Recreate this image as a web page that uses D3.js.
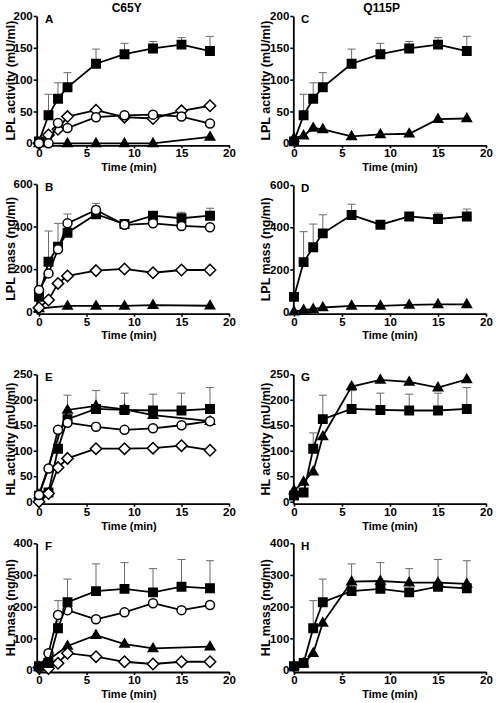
<!DOCTYPE html>
<html><head><meta charset="utf-8">
<script src="https://cdn.jsdelivr.net/npm/d3@7"></script>
<style>
body{margin:0;background:#fff}
svg{display:block}
text{font-family:"Liberation Sans",Arial,Helvetica,sans-serif;font-weight:bold;fill:#000}
</style>
</head><body>
<svg id="chart" width="496" height="703"></svg>
<script>
// ---------- data ----------
const times = [0, 1, 2, 3, 6, 9, 12, 15, 18];
const timesTriC65Y = [0, 3, 6, 9, 12, 18];
const xTicks = [0, 5, 10, 15, 20];
const headers = ["C65Y", "Q115P"];

// LPL activity (mU/ml)
const lplActWT = [3, 44, 70, 88, 125, 140, 149, 155, 145];
const lplActWTErr = [null, 77, 95, 111, 148, 157, 160, 166, 168];
const lplActC65YCircle = [0, 0, 32, 24, 41, 44, 45, 42, 31];
const lplActC65YDiamond = [0, 13, 22, 42, 52, 41, 39, 51, 59];
const lplActC65YTri = [0, 0, 0, 0, 0, 10];
const lplActQ115PTri = [8, 12, 24, 22, 11, 14, 15, 38, 39];
const lplActTicks = [0, 50, 100, 150, 200];

// LPL mass (ng/ml)
const lplMassWT = [70, 235, 305, 371, 458, 412, 451, 439, 451];
const lplMassWTErr = [null, 379, 415, 459, 509, null, null, 467, 486];
const lplMassC65YCircle = [102, 180, 293, 415, 478, 408, 415, 403, 397];
const lplMassC65YDiamond = [19, 55, 133, 168, 193, 201, 183, 196, 196];
const lplMassC65YTri = [15, 27, 27, 27, 31, 28];
const lplMassQ115PTri = [0, 8, 12, 20, 28, 28, 32, 35, 35];
const lplMassTicks = [0, 200, 400, 600];

// HL activity (mU/ml)
const hlActWT = [12, 18, 104, 162, 182, 180, 179, 179, 182];
const hlActWTErr = [null, null, 135, 209, 218, 213, 211, 213, 224];
const hlActC65YCircle = [13, 65, 141, 155, 147, 141, 144, 150, 158];
const hlActC65YDiamond = [0, 16, 67, 85, 104, 104, 105, 110, 101];
const hlActC65YTri = [14, 180, 188, 181, 170, 158];
const hlActQ115PTri = [22, 39, 59, 128, 226, 239, 235, 224, 240];
const hlActTicks = [0, 50, 100, 150, 200, 250];

// HL mass (ng/ml)
const hlMassWT = [12, 22, 132, 214, 249, 256, 245, 263, 258];
const hlMassWTErr = [null, null, 219, 287, 335, 339, 320, 349, 345];
const hlMassC65YCircle = [8, 53, 174, 189, 160, 182, 211, 189, 205];
const hlMassC65YDiamond = [8, 5, 21, 53, 42, 26, 19, 26, 26];
const hlMassC65YTri = [10, 76, 110, 82, 68, 74];
const hlMassQ115PTri = [14, 21, 53, 149, 279, 281, 276, 276, 272];
const hlMassTicks = [0, 100, 200, 300, 400];

// ---------- layout ----------
const L = {axisX: 36.7, x0: 39, x20: 229, titleX: 11, timeX: 129, letterX: 45};
const R = {axisX: 293.3, x0: 294, x20: 486, titleX: 266, timeX: 390, letterX: 301};

const panels = [
  {col: L, letter: "A", top: 16, zero: 143.3, max: 200, ticks: lplActTicks, title: "LPL activity (mU/ml)", timeY: 171,
   series: [
     {type: "square", t: times, v: lplActWT, err: lplActWTErr},
     {type: "triangle", t: timesTriC65Y, v: lplActC65YTri},
     {type: "diamond", t: times, v: lplActC65YDiamond},
     {type: "circle", t: times, v: lplActC65YCircle}]},
  {col: R, letter: "C", top: 16, zero: 143.3, max: 200, ticks: lplActTicks, title: "LPL activity (mU/ml)", timeY: 171,
   series: [
     {type: "square", t: times, v: lplActWT, err: lplActWTErr},
     {type: "triangle", t: times, v: lplActQ115PTri}]},
  {col: L, letter: "B", top: 184, zero: 311.7, max: 600, ticks: lplMassTicks, title: "LPL mass (ng/ml)", timeY: 338.5,
   series: [
     {type: "square", t: times, v: lplMassWT, err: lplMassWTErr},
     {type: "triangle", t: timesTriC65Y, v: lplMassC65YTri},
     {type: "diamond", t: times, v: lplMassC65YDiamond},
     {type: "circle", t: times, v: lplMassC65YCircle}]},
  {col: R, letter: "D", top: 185, zero: 311.7, max: 600, ticks: lplMassTicks, title: "LPL mass (ng/ml)", timeY: 338.5,
   series: [
     {type: "square", t: times, v: lplMassWT, err: lplMassWTErr},
     {type: "triangle", t: times, v: lplMassQ115PTri}]},
  {col: L, letter: "E", top: 374.3, zero: 501.7, max: 250, ticks: hlActTicks, title: "HL activity (mU/ml)", timeY: 529.5,
   series: [
     {type: "triangle", t: timesTriC65Y, v: hlActC65YTri},
     {type: "square", t: times, v: hlActWT, err: hlActWTErr},
     {type: "diamond", t: times, v: hlActC65YDiamond},
     {type: "circle", t: times, v: hlActC65YCircle}]},
  {col: R, letter: "G", top: 374.3, zero: 501.7, max: 250, ticks: hlActTicks, title: "HL activity (mU/ml)", timeY: 529.5,
   series: [
     {type: "square", t: times, v: hlActWT, err: hlActWTErr},
     {type: "triangle", t: times, v: hlActQ115PTri}]},
  {col: L, letter: "F", top: 543.3, zero: 670, max: 400, ticks: hlMassTicks, title: "HL mass (ng/ml)", timeY: 697.5,
   series: [
     {type: "triangle", t: timesTriC65Y, v: hlMassC65YTri},
     {type: "diamond", t: times, v: hlMassC65YDiamond},
     {type: "circle", t: times, v: hlMassC65YCircle},
     {type: "square", t: times, v: hlMassWT, err: hlMassWTErr}]},
  {col: R, letter: "H", top: 543.3, zero: 670, max: 400, ticks: hlMassTicks, title: "HL mass (ng/ml)", timeY: 697.5,
   series: [
     {type: "square", t: times, v: hlMassWT, err: hlMassWTErr},
     {type: "triangle", t: times, v: hlMassQ115PTri}]}
];

const svg = d3.select("#chart");

function symbolPath(type) {
  const p = d3.path();
  if (type === "square") { const s = 4.2; p.rect(-s, -s, 2 * s, 2 * s); }
  else if (type === "circle") { p.arc(0, 0, 4.5, 0, 2 * Math.PI); }
  else if (type === "diamond") { const r = 5.7; p.moveTo(0, -r); p.lineTo(r, 0); p.lineTo(0, r); p.lineTo(-r, 0); p.closePath(); }
  else { const s = 9.4, h = s * Math.sqrt(3) / 2; p.moveTo(0, -h * 0.62); p.lineTo(s / 2, h * 0.38); p.lineTo(-s / 2, h * 0.38); p.closePath(); }
  return p.toString();
}

panels.forEach(pn => {
  const c = pn.col;
  const pxPerMin = (c.x20 - c.x0) / 20;
  const xMin = -(c.x0 - c.axisX) / pxPerMin;
  const x = d3.scaleLinear().domain([xMin, 20]).range([c.axisX, c.x20]);
  const pxPerUnit = (pn.zero - pn.top) / pn.max;
  const yMin = -2 / pxPerUnit;
  const y = d3.scaleLinear().domain([yMin, pn.max]).range([pn.zero + 2, pn.top]);
  const g = svg.append("g");

  // axes
  const xa = g.append("g").attr("transform", `translate(0,${pn.zero + 2})`)
    .call(d3.axisBottom(x).tickValues(xTicks).tickSizeInner(3).tickSizeOuter(0).tickPadding(1).tickFormat(d3.format("d")));
  const ya = g.append("g").attr("transform", `translate(${c.axisX},0)`)
    .call(d3.axisLeft(y).tickValues(pn.ticks).tickSizeInner(3).tickSizeOuter(0).tickPadding(1).tickFormat(d3.format("d")));
  [xa, ya].forEach(a => {
    a.select(".domain").attr("stroke", "#000").attr("stroke-width", 1.8);
    a.selectAll(".tick line").attr("stroke", "#000").attr("stroke-width", 1.6);
    a.selectAll(".tick text").style("font-size", "11.5px").style("font-weight", "bold").attr("fill", "#000")
      .style("font-family", '"Liberation Sans",Arial,sans-serif');
  });

  // titles
  g.append("text").attr("x", c.timeX).attr("y", pn.timeY).attr("text-anchor", "middle")
    .style("font-size", "11px").text("Time (min)");
  g.append("text").attr("transform", `translate(${c.titleX + 4},${(pn.top + pn.zero) / 2 + 1}) rotate(-90)`)
    .attr("text-anchor", "middle").style("font-size", "12.5px").text(pn.title);
  g.append("text").attr("x", c.letterX).attr("y", pn.top + 7).style("font-size", "11.5px").text(pn.letter);

  // error bars (upper only)
  pn.series.forEach(s => {
    if (!s.err) return;
    s.t.forEach((t, i) => {
      const e = s.err[i];
      if (e == null) return;
      g.append("line").attr("x1", x(t)).attr("x2", x(t)).attr("y1", y(s.v[i])).attr("y2", y(e))
        .attr("stroke", "#6a6a6a").attr("stroke-width", 1);
      g.append("line").attr("x1", x(t) - 4).attr("x2", x(t) + 4).attr("y1", y(e)).attr("y2", y(e))
        .attr("stroke", "#6a6a6a").attr("stroke-width", 1);
    });
  });

  // series
  pn.series.forEach(s => {
    const pts = s.t.map((t, i) => [t, s.v[i]]);
    g.append("path").datum(pts)
      .attr("d", d3.line().x(d => x(d[0])).y(d => y(d[1])))
      .attr("fill", "none").attr("stroke", "#000").attr("stroke-width", 1.8);
    const filled = s.type === "square" || s.type === "triangle";
    g.selectAll(null).data(pts).enter().append("path")
      .attr("transform", d => `translate(${x(d[0])},${y(d[1])})`)
      .attr("d", symbolPath(s.type))
      .attr("fill", filled ? "#000" : "#fff").attr("stroke", "#000").attr("stroke-width", 1.5);
  });
});

// column headers
svg.append("text").attr("x", 126.7).attr("y", 12).attr("text-anchor", "middle").style("font-size", "12px").text(headers[0]);
svg.append("text").attr("x", 381.7).attr("y", 12).attr("text-anchor", "middle").style("font-size", "12px").text(headers[1]);
</script>
</body></html>
